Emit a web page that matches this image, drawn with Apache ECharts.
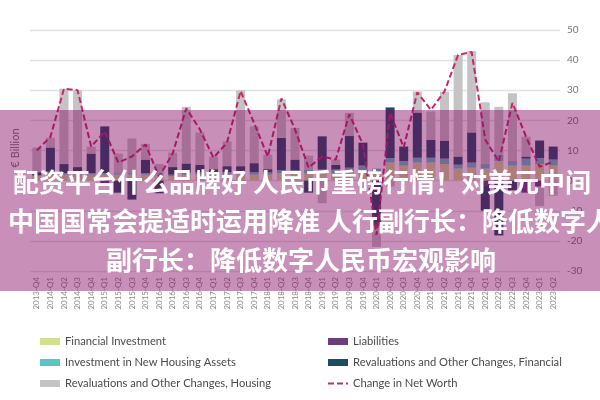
<!DOCTYPE html>
<html>
<head>
<meta charset="utf-8">
<script src="https://cdn.jsdelivr.net/npm/echarts@6/dist/echarts.min.js"></script>
<style>html,body{margin:0;padding:0;background:#fff}#c{width:600px;height:400px}</style>
</head>
<body>
<div id="c"></div>
<script>
const quarters = ["2013-Q4","2014-Q1","2014-Q2","2014-Q3","2014-Q4","2015-Q1","2015-Q2","2015-Q3","2015-Q4","2016-Q1","2016-Q2","2016-Q3","2016-Q4","2017-Q1","2017-Q2","2017-Q3","2017-Q4","2018-Q1","2018-Q2","2018-Q3","2018-Q4","2019-Q1","2019-Q2","2019-Q3","2019-Q4","2020-Q1","2020-Q2","2020-Q3","2020-Q4","2021-Q1","2021-Q2","2021-Q3","2021-Q4","2022-Q1","2022-Q2","2022-Q3","2022-Q4","2023-Q1","2023-Q2"];
const financialInvestment = [1.5,2.5,2,2,2,2,2,2,2,2,1.5,2,2,2,2,2,2,2,2.5,2.5,2.5,2.5,2.5,3,3.5,3,6,5,6,6,5.5,4,4.3,4,6.5,5,5,5.5,5];
const housingInvestment = [0.3,0.5,0.5,0.5,0.5,0.5,0.5,0.5,0.5,0.5,0.5,0.7,0.7,0.8,0.8,0.8,0.8,0.8,1,1,1.2,1.2,1.2,1.3,1.5,1,1.5,1.5,1.6,1.6,1.8,1.3,1.7,1.5,2,1.5,2.3,2,2];
const liabilities = [0,0,0,0,0,-1.7,0,0,0,0,0,0,0,0,0,0,0,0,0,0,0,0,0,0,0,0,0,0,0,0,0,0,0,-1.5,0,0,-4,-2,0];
const revalFinancial = [1,8,3,2,6.5,15.5,-4,-6.3,4.5,-4.2,2.5,3,2.5,1,2,2,3,1,10.7,3.5,-4,11,1.5,10.5,7.6,-15,16.8,4.8,15,6,6,2.7,10,-8.5,-18.2,-3.2,0.7,5.8,4.3];
const revalHousing = [8.2,3.2,25,25.5,2.3,0,6.5,11.5,5.2,3,4.8,18.8,10.8,4.2,8.2,25.2,12.2,4.8,12.8,10.5,4.6,-7.5,1.8,7.7,0,-7,-2,0,7,9.4,16.2,33.7,27,20.5,16,22.5,6.6,-6.5,-5];
const netWorth = [10,14.5,30.5,30,11.3,16.3,6,8,12,1.3,9,24,17,7.6,12.6,29.7,19,8,27.3,17,4.3,8,7,22,12,-18,22.5,11,29.3,23.5,29.6,41.7,42.7,13.6,6.3,25.8,14.6,4.6,6.3];
const yTicks = {min:-30, max:50, interval:10};
const overlayLines = ["配资平台什么品牌好 人民币重磅行情！对美元中间","中国国常会提适时运用降准 人行副行长：降低数字人","副行长：降低数字人民币宏观影响"];

const chart = echarts.init(document.getElementById('c'), null, {renderer:'canvas'});
const barBase = {type:'bar', stack:'total', barWidth:9};
const font = 'Lato';
const legendBase = {top:331, orient:'vertical', itemWidth:20, itemHeight:7, itemGap:10,
  textStyle:{fontSize:11.2, color:'#4a4a4a', fontFamily:font}};
chart.setOption({
  animation:false,
  grid:{left:30, right:40, top:30, bottom:129},
  xAxis:{type:'category', data:quarters,
    axisLine:{show:false, onZero:false}, axisTick:{show:false},
    axisLabel:{rotate:90, fontSize:8, color:'#8a8a8a', fontFamily:font, margin:6, interval:0}},
  yAxis:{type:'value', position:'right', min:yTicks.min, max:yTicks.max, interval:yTicks.interval,
    axisLine:{show:false}, axisTick:{show:false},
    axisLabel:{fontSize:10, color:'#777', fontFamily:font, margin:7},
    splitLine:{lineStyle:{color:'#e2e2e2', width:1.3}}},
  legend:[
    Object.assign({left:35,
     data:[{name:'Financial Investment',icon:'rect'},{name:'Investment in New Housing Assets',icon:'rect'},{name:'Revaluations and Other Changes, Housing',icon:'rect'}]}, legendBase),
    Object.assign({left:322,
     data:[{name:'Liabilities',icon:'rect'},{name:'Revaluations and Other Changes, Financial',icon:'rect'},{name:'Change in Net Worth', itemStyle:{opacity:0}}]}, legendBase)
  ],
  series:[
    Object.assign({name:'Financial Investment', data:financialInvestment, itemStyle:{color:'#cfe08e'}}, barBase),
    Object.assign({name:'Investment in New Housing Assets', data:housingInvestment, itemStyle:{color:'#5cc5c1'}}, barBase),
    Object.assign({name:'Liabilities', data:liabilities, itemStyle:{color:'#6c3d7b'}}, barBase),
    Object.assign({name:'Revaluations and Other Changes, Financial', data:revalFinancial, itemStyle:{color:'#1d4d62'}}, barBase),
    Object.assign({name:'Revaluations and Other Changes, Housing', data:revalHousing, itemStyle:{color:'#c4c4c4'}}, barBase),
    {name:'Change in Net Worth', type:'line', data:netWorth, symbol:'none', z:5,
     lineStyle:{color:'#c8286c', width:2, type:[6,3]}, itemStyle:{color:'#c8286c'}}
  ],
  graphic:[
    {type:'text', x:15, y:148, rotation:Math.PI/2, z:50,
     style:{text:'€ Billion', fill:'#777', fontSize:11, fontFamily:font, align:'center', verticalAlign:'middle'}},
    {type:'rect', shape:{x:0, y:110, width:600, height:181}, z:100,
     style:{fill:'rgba(130,0,95,0.44)'}},
    {type:'text', x:302, y:182, z:101,
     style:{text:overlayLines[0], fill:'#fff', fontSize:26, fontWeight:'bold', fontFamily:'Noto Sans CJK SC', align:'center', verticalAlign:'middle'}},
    {type:'text', x:8, y:221, z:101,
     style:{text:overlayLines[1], fill:'#fff', fontSize:26, fontWeight:'bold', fontFamily:'Noto Sans CJK SC', align:'left', verticalAlign:'middle'}},
    {type:'text', x:301, y:260, z:101,
     style:{text:overlayLines[2], fill:'#fff', fontSize:26, fontWeight:'bold', fontFamily:'Noto Sans CJK SC', align:'center', verticalAlign:'middle'}}
  ]
});
</script>
</body>
</html>
